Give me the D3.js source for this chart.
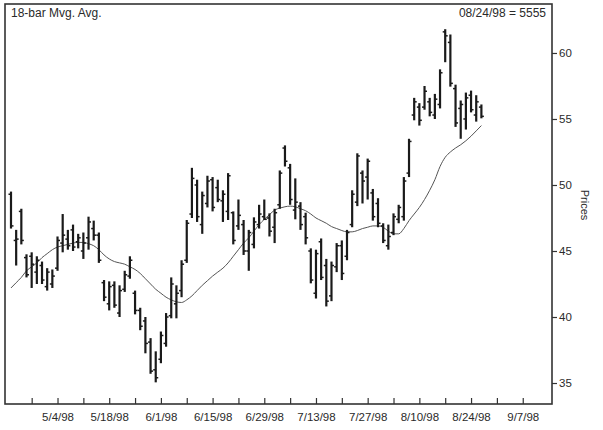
<!DOCTYPE html>
<html>
<head>
<meta charset="utf-8">
<script src="https://cdn.jsdelivr.net/npm/d3@7"></script>
<style>
  html, body { margin: 0; padding: 0; background: #fff; }
  svg { display: block; }
  text { font-family: "Liberation Sans", Arial, sans-serif; fill: #2a2a2a; }
</style>
</head>
<body>
<svg id="chart" width="603" height="430"></svg>
<script>
// ---- Data ----
const highs = [49.5,46.6,48.2,44.75,44.9,44.6,44.2,43.7,43.6,46.1,47.8,46.6,47.0,46.3,46.4,47.6,47.3,46.4,42.8,42.7,
  42.7,42.4,43.5,44.6,42.0,40.7,40.0,38.4,37.4,38.9,40.3,43.0,42.4,44.3,47.35,51.3,50.4,49.5,50.7,50.6,
  50.4,49.6,50.9,48.0,48.9,47.35,46.6,47.55,48.5,48.9,47.85,48.2,51.1,53.0,51.6,50.5,48.7,47.9,45.2,45.1,
  45.95,44.4,44.2,45.6,45.8,46.6,49.6,52.4,51.1,52.0,49.7,49.0,47.1,47.0,47.85,48.5,50.6,53.5,56.6,56.2,
  57.5,56.6,56.9,58.76,61.8,61.4,57.6,56.4,57.0,57.15,56.8,56.1];
const lows = [46.7,43.9,45.5,43.0,42.2,42.5,42.5,42.0,42.2,43.5,44.9,45.1,45.0,45.2,44.4,45.1,45.8,44.1,41.2,40.5,
  40.7,40.0,41.9,42.9,40.2,39.0,37.25,35.7,35.05,36.5,37.75,39.9,39.9,41.5,44.1,47.5,47.2,46.3,48.3,48.0,
  48.7,47.2,47.35,45.5,46.6,44.7,43.5,45.2,46.7,47.35,46.1,45.6,48.2,51.4,48.5,47.4,46.6,45.5,42.55,41.4,
  42.8,40.8,41.2,43.4,42.8,44.3,46.8,48.4,48.6,48.9,47.3,46.8,45.6,45.1,46.2,47.1,47.3,50.6,54.9,54.5,
  55.7,55.2,55.0,55.8,59.3,57.45,54.4,53.5,54.2,55.5,54.8,55.05];
const opens = [49.3,45.8,48.0,44.5,44.6,43.4,43.9,42.3,42.5,43.7,45.6,45.9,46.6,45.7,45.0,46.0,46.7,46.2,42.6,41.0,
  42.4,40.3,42.1,43.1,41.8,40.5,39.7,38.1,36.0,36.8,38.0,40.1,41.0,42.0,44.3,47.8,50.0,47.0,48.6,50.4,
  49.8,48.8,48.0,47.9,46.9,47.0,45.0,45.5,47.0,47.6,47.5,46.8,48.5,52.8,51.3,48.1,48.4,47.6,45.0,41.8,
  45.7,43.9,41.6,43.8,45.4,44.6,47.0,48.7,50.9,50.6,49.4,48.6,46.9,45.4,46.4,47.4,47.6,50.9,55.3,55.9,
  55.9,56.3,55.3,56.1,61.6,60.8,57.3,55.8,55.0,56.8,55.3,55.9];
const closes = [46.9,45.9,45.8,43.2,44.0,44.3,42.8,43.4,43.1,45.8,46.2,45.4,45.3,46.0,45.6,47.2,46.2,44.3,41.5,42.3,
  40.9,42.0,43.2,44.3,40.5,39.3,38.0,35.9,35.4,38.6,40.0,42.5,41.8,44.0,47.1,50.5,47.6,49.2,50.3,48.3,
  48.9,49.3,50.7,45.8,47.7,45.0,46.4,47.2,47.8,47.4,46.5,47.9,50.9,51.8,48.9,48.7,47.0,46.0,42.8,44.8,
  43.0,41.2,43.9,45.4,43.3,46.4,49.3,52.2,50.3,51.8,47.6,47.1,45.8,46.1,47.6,48.3,50.3,53.3,56.3,54.9,
  57.1,55.5,56.5,58.5,61.3,57.7,54.7,56.1,56.6,55.7,56.3,55.2];
// 18-bar moving average as drawn in the reference (one value per bar)
const movingAvg = [42.2,42.6,43.0,43.5,43.8,44.1,44.5,44.8,45.1,45.3,45.4,45.5,45.6,45.65,45.65,45.55,45.4,45.1,44.7,44.4,
  44.2,44.1,44.0,43.8,43.6,43.3,42.9,42.5,42.1,41.8,41.5,41.3,41.15,41.1,41.3,41.6,42.0,42.4,42.75,43.1,
  43.4,43.7,44.1,44.6,45.1,45.6,46.0,46.5,47.0,47.4,47.75,48.1,48.25,48.35,48.4,48.35,48.2,48.05,47.8,47.5,
  47.3,47.1,46.85,46.7,46.55,46.45,46.45,46.55,46.7,46.8,46.9,46.9,46.8,46.5,46.3,46.3,46.7,47.3,47.8,48.3,
  48.9,49.6,50.4,51.4,52.1,52.5,52.8,53.05,53.35,53.7,54.1,54.5];
// weekly tick positions (bar index of each Monday) and their labels (every other week)
const weekTicks = [4,9,14,19,24,29,34,39,44,49,54,59,64,69,74,79,84,89,94,99];
const tickLabels = ["5/4/98","5/18/98","6/1/98","6/15/98","6/29/98","7/13/98","7/27/98","8/10/98","8/24/98","9/7/98"];
const labelTicks = [9,19,29,39,49,59,69,79,89,99];
const priceTicks = [35,40,45,50,55,60];

const bars = highs.map((h, i) => ({i, h, l: lows[i], o: opens[i], c: closes[i]}));

// ---- Layout ----
const svg = d3.select("#chart");
const plotL = 5, plotR = 552, plotT = 4, plotB = 404;

const x = d3.scaleLinear().domain([-1.16, 104.66]).range([plotL, plotR]);
const y = d3.scaleLinear().domain([33.41, 63.71]).range([plotB, plotT]);

svg.append("rect").attr("width", 603).attr("height", 430).attr("fill", "#fff");

// Frame
svg.append("rect")
  .attr("x", plotL).attr("y", plotT)
  .attr("width", plotR - plotL).attr("height", plotB - plotT)
  .attr("fill", "none").attr("stroke", "#333").attr("stroke-width", 1.6);

// X axis (ticks pointing inward)
const xAxis = d3.axisBottom(x)
  .tickValues(weekTicks)
  .tickSize(-6)
  .tickPadding(9)
  .tickFormat(d => {
    const k = labelTicks.indexOf(d);
    return k >= 0 ? tickLabels[k] : "";
  });
const gx = svg.append("g").attr("transform", `translate(0,${plotB})`).call(xAxis);
gx.select(".domain").remove();
gx.selectAll(".tick line").attr("stroke", "#333").attr("stroke-width", 1.2);
gx.selectAll(".tick text").attr("font-size", 11.5).attr("fill", "#2a2a2a")
  .style("font-family", "'Liberation Sans', Arial, sans-serif");

// Y axis on right
const yAxis = d3.axisRight(y).tickValues(priceTicks).tickSize(5).tickPadding(2);
const gy = svg.append("g").attr("transform", `translate(${plotR},0)`).call(yAxis);
gy.select(".domain").remove();
gy.selectAll(".tick line").attr("stroke", "#333").attr("stroke-width", 1.2);
gy.selectAll(".tick text").attr("font-size", 11.5).attr("fill", "#2a2a2a")
  .style("font-family", "'Liberation Sans', Arial, sans-serif");

// Y axis title
svg.append("text")
  .attr("transform", `translate(581,205) rotate(90)`)
  .attr("text-anchor", "middle")
  .attr("font-size", 11)
  .text("Prices");

// Header labels
svg.append("text").attr("x", 11).attr("y", 17).attr("font-size", 12).text("18-bar Mvg. Avg.");
svg.append("text").attr("x", 546).attr("y", 17).attr("text-anchor", "end").attr("font-size", 12).text("08/24/98 = 5555");

// Moving average line
const maLine = d3.line().x((d, i) => x(i)).y(d => y(d)).curve(d3.curveMonotoneX);
svg.append("path").datum(movingAvg)
  .attr("d", maLine).attr("fill", "none").attr("stroke", "#555").attr("stroke-width", 1);

// OHLC bars
const g = svg.append("g").attr("stroke", "#1a1a1a");
g.selectAll("line.hl").data(bars).join("line").attr("class", "hl")
  .attr("x1", d => x(d.i)).attr("x2", d => x(d.i))
  .attr("y1", d => y(d.h)).attr("y2", d => y(d.l))
  .attr("stroke-width", 2.2);
g.selectAll("line.op").data(bars).join("line").attr("class", "op")
  .attr("x1", d => x(d.i) - 2.5).attr("x2", d => x(d.i))
  .attr("y1", d => y(d.o)).attr("y2", d => y(d.o))
  .attr("stroke-width", 1.5);
g.selectAll("line.cl").data(bars).join("line").attr("class", "cl")
  .attr("x1", d => x(d.i)).attr("x2", d => x(d.i) + 2.5)
  .attr("y1", d => y(d.c)).attr("y2", d => y(d.c))
  .attr("stroke-width", 1.5);
</script>
</body>
</html>
